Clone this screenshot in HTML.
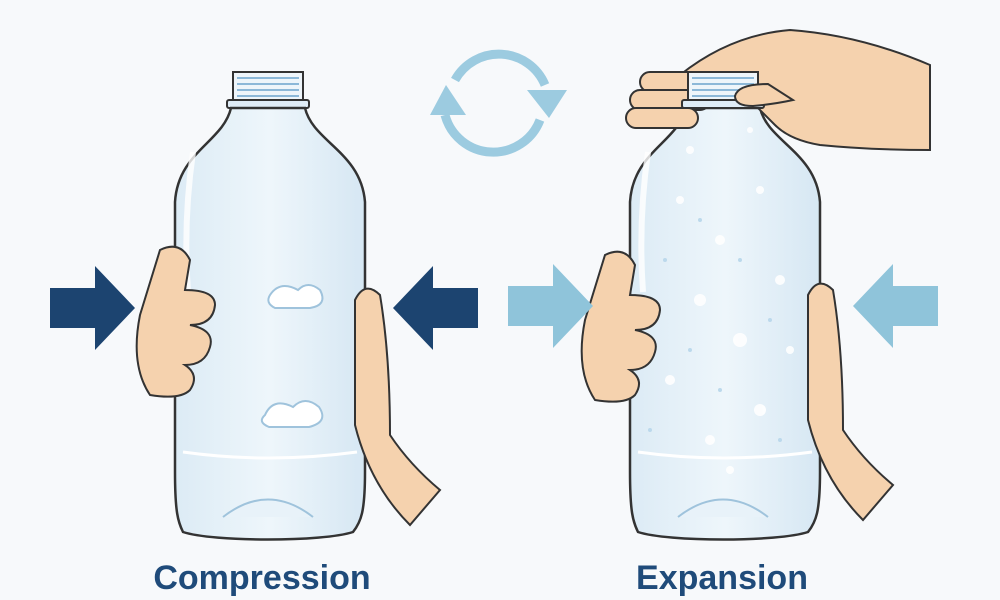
<!DOCTYPE html>
<html><head><meta charset="utf-8"><style>
html,body{margin:0;padding:0;background:#f7f9fb;}
svg{display:block}
text{font-family:"Liberation Sans",sans-serif;font-weight:bold;fill:#1f4b7a}
</style></head><body>
<svg width="1000" height="600" viewBox="0 0 1000 600" xmlns="http://www.w3.org/2000/svg">
<defs>
<linearGradient id="bt" x1="0" x2="1"><stop offset="0" stop-color="#dcebf5"/><stop offset=".5" stop-color="#eef6fb"/><stop offset="1" stop-color="#d6e7f3"/></linearGradient>
<g id="cap">
 <path d="M0,0 h70 v28 h-70z" fill="#eef5fa" stroke="#333" stroke-width="2"/>
 <path d="M4,6h62M4,12h62M4,18h62M4,24h62" stroke="#8cb8d8" stroke-width="2"/>
 <rect x="-6" y="28" width="82" height="8" rx="2" fill="#dfecf6" stroke="#333" stroke-width="2"/>
</g>
<g id="bottle">
 <use href="#cap"/>
 <path d="M-2,36 C-10,70 -55,80 -58,130 L-58,400 C-58,440 -55,450 -50,460 C-20,470 90,470 120,460 C128,450 132,440 132,400 L132,130 C128,80 80,70 72,36 Z" fill="url(#bt)" stroke="#333" stroke-width="2.5"/>
 <path d="M-50,380 Q35,392 124,380" stroke="#fff" stroke-width="3" fill="none"/>
 <path d="M-10,445 Q35,410 80,445" stroke="#9fc3dc" stroke-width="2" fill="#e8f2f9"/>
 <path d="M-40,80 Q-50,150 -45,220" stroke="#fff" stroke-width="6" fill="none" opacity=".8"/>
</g>
<g id="arr"><path d="M0,-20 h45 v-22 l40,42 l-40,42 v-22 h-45z"/></g>
</defs>

<g fill="none" stroke="#9ccbe0" stroke-width="9">
<path d="M455,80 A50,50 0 0 1 545,85"/>
<path d="M540,120 A50,50 0 0 1 445,115"/>
</g>
<path d="M527,90 l40,0 l-18,28z" fill="#9ccbe0"/>
<path d="M430,115 l36,0 l-20,-30z" fill="#9ccbe0"/>

<g transform="translate(233,72)"><use href="#bottle"/></g>
<path d="M270,295 q10,-15 28,-5 q10,-10 22,0 q8,15 -10,18 h-35 q-10,-5 -5,-13z" fill="#fff" stroke="#9fc3dc" stroke-width="2"/>
<path d="M265,415 q8,-18 28,-8 q12,-12 26,0 q10,15 -10,20 h-40 q-12,-5 -4,-12z" fill="#fff" stroke="#9fc3dc" stroke-width="2"/>
<path d="M160,250 q20,-10 30,10 l-5,30 q30,0 30,15 q-2,20 -25,20 q25,5 20,22 q-5,18 -25,18 q15,10 5,25 q-10,10 -40,5 q-20,-30 -10,-80z" fill="#f5d2ae" stroke="#333" stroke-width="2"/>
<path d="M355,300 q10,-20 25,-5 q10,60 10,140 q20,30 50,55 l-30,35 q-40,-40 -55,-100z" fill="#f5d2ae" stroke="#333" stroke-width="2"/>
<g fill="#1c4470"><use href="#arr" transform="translate(50,308)"/><use href="#arr" transform="translate(478,308) scale(-1,1)"/></g>

<g transform="translate(688,72)"><use href="#bottle"/></g>
<g fill="#fff" opacity=".9">
<circle cx="680" cy="200" r="4"/><circle cx="720" cy="240" r="5"/><circle cx="760" cy="190" r="4"/><circle cx="700" cy="300" r="6"/><circle cx="780" cy="280" r="5"/><circle cx="740" cy="340" r="7"/><circle cx="670" cy="380" r="5"/><circle cx="760" cy="410" r="6"/><circle cx="710" cy="440" r="5"/><circle cx="790" cy="350" r="4"/><circle cx="690" cy="150" r="4"/><circle cx="750" cy="130" r="3"/><circle cx="650" cy="320" r="3"/><circle cx="730" cy="470" r="4"/>
</g>
<g fill="#bcd9ec"><circle cx="700" cy="220" r="2"/><circle cx="740" cy="260" r="2"/><circle cx="665" cy="260" r="2"/><circle cx="770" cy="320" r="2"/><circle cx="720" cy="390" r="2"/><circle cx="690" cy="350" r="2"/><circle cx="780" cy="440" r="2"/><circle cx="650" cy="430" r="2"/></g>
<!-- top hand -->
<g fill="#f5d2ae" stroke="#333" stroke-width="2">
<path d="M680,75 q50,-40 110,-45 q70,5 140,35 v85 q-60,0 -110,-5 q-30,-5 -45,-20 l-30,-30z"/>
<rect x="640" y="72" width="90" height="20" rx="10"/>
<rect x="630" y="90" width="80" height="20" rx="10"/>
<rect x="626" y="108" width="72" height="20" rx="10"/>
</g>
<g transform="translate(688,72)"><use href="#cap"/></g>
<path d="M768,84 q-30,0 -33,12 q0,10 18,10 q22,-2 40,-6z" fill="#f5d2ae" stroke="#333" stroke-width="2"/>
<path d="M605,255 q20,-10 30,10 l-5,30 q30,0 30,15 q-2,20 -25,20 q25,5 20,22 q-5,18 -25,18 q15,10 5,25 q-10,10 -40,5 q-20,-30 -10,-80z" fill="#f5d2ae" stroke="#333" stroke-width="2"/>
<path d="M808,295 q10,-20 25,-5 q10,60 10,140 q20,30 50,55 l-30,35 q-40,-40 -55,-100z" fill="#f5d2ae" stroke="#333" stroke-width="2"/>
<g fill="#8fc4da"><use href="#arr" transform="translate(508,306)"/><use href="#arr" transform="translate(938,306) scale(-1,1)"/></g>

<text x="262" y="589" font-size="34" text-anchor="middle">Compression</text>
<text x="722" y="589" font-size="34" text-anchor="middle">Expansion</text>
</svg>
</body></html>
